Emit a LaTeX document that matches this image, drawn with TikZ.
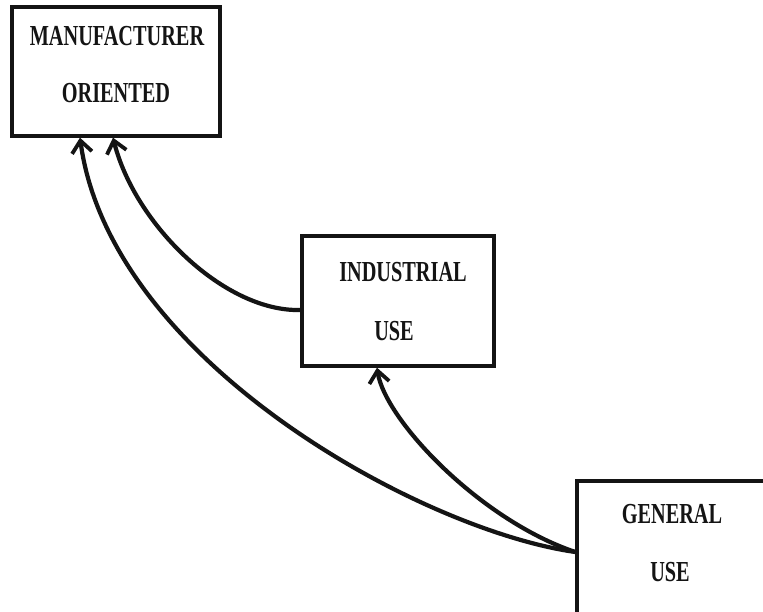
\documentclass[tikz,border=0pt]{standalone}
\usepackage{fontspec}
\setmainfont{Liberation Serif}
\newfontfamily\labelfont[FakeStretch=0.7]{Liberation Serif}
\usetikzlibrary{arrows.meta}
\begin{document}
\begin{tikzpicture}[x=1pt,y=-1pt,
  box/.style={draw=black!92, line width=3.4pt, inner sep=0pt},
  lbl/.style={font=\labelfont\fontsize{29}{30}\selectfont\bfseries, text=black!92},
  flow/.style={draw=black!92, line width=4.2pt, line cap=round,
    -{Straight Barb[length=12pt,width=20pt,line width=3.8pt]}}]
  \useasboundingbox (0,0) rectangle (763,612);
  \clip (0,0) rectangle (763,612);
  \fill[white] (0,0) rectangle (763,612);

  % boxes
  \node[box, minimum width=208pt, minimum height=129pt] (mfr) at (116,71.5) {};
  \node[box, minimum width=192pt, minimum height=130pt] (ind) at (398,301) {};
  \node[box, minimum width=200pt, minimum height=150pt] (gen) at (677,556) {};

  % labels
  \node[lbl] (mfr1) at (117,36) {MANUFACTURER};
  \node[lbl] (mfr2) at (116,93) {ORIENTED};
  \node[lbl] (ind1) at (403,272) {INDUSTRIAL};
  \node[lbl] (ind2) at (394,331) {USE};
  \node[lbl] (gen1) at (672,514) {GENERAL};
  \node[lbl] (gen2) at (670,572) {USE};

  % connectors
  \coordinate (indL) at (ind.west |- 0,310);
  \coordinate (genL) at (gen.west |- 0,552);
  \coordinate (mfrA) at (mfr.south west -| 80,0);
  \coordinate (mfrB) at (mfr.south west -| 113,0);
  \coordinate (indB) at (ind.south west -| 377,0);

  \draw[flow] (indL) .. controls (225,312) and (135,225) .. (mfrB);
  \draw[flow] (genL) .. controls (420,530) and (110,360) .. (mfrA);
  \draw[flow] (genL) .. controls (480,520) and (385,420) .. (indB);
\end{tikzpicture}
\end{document}
